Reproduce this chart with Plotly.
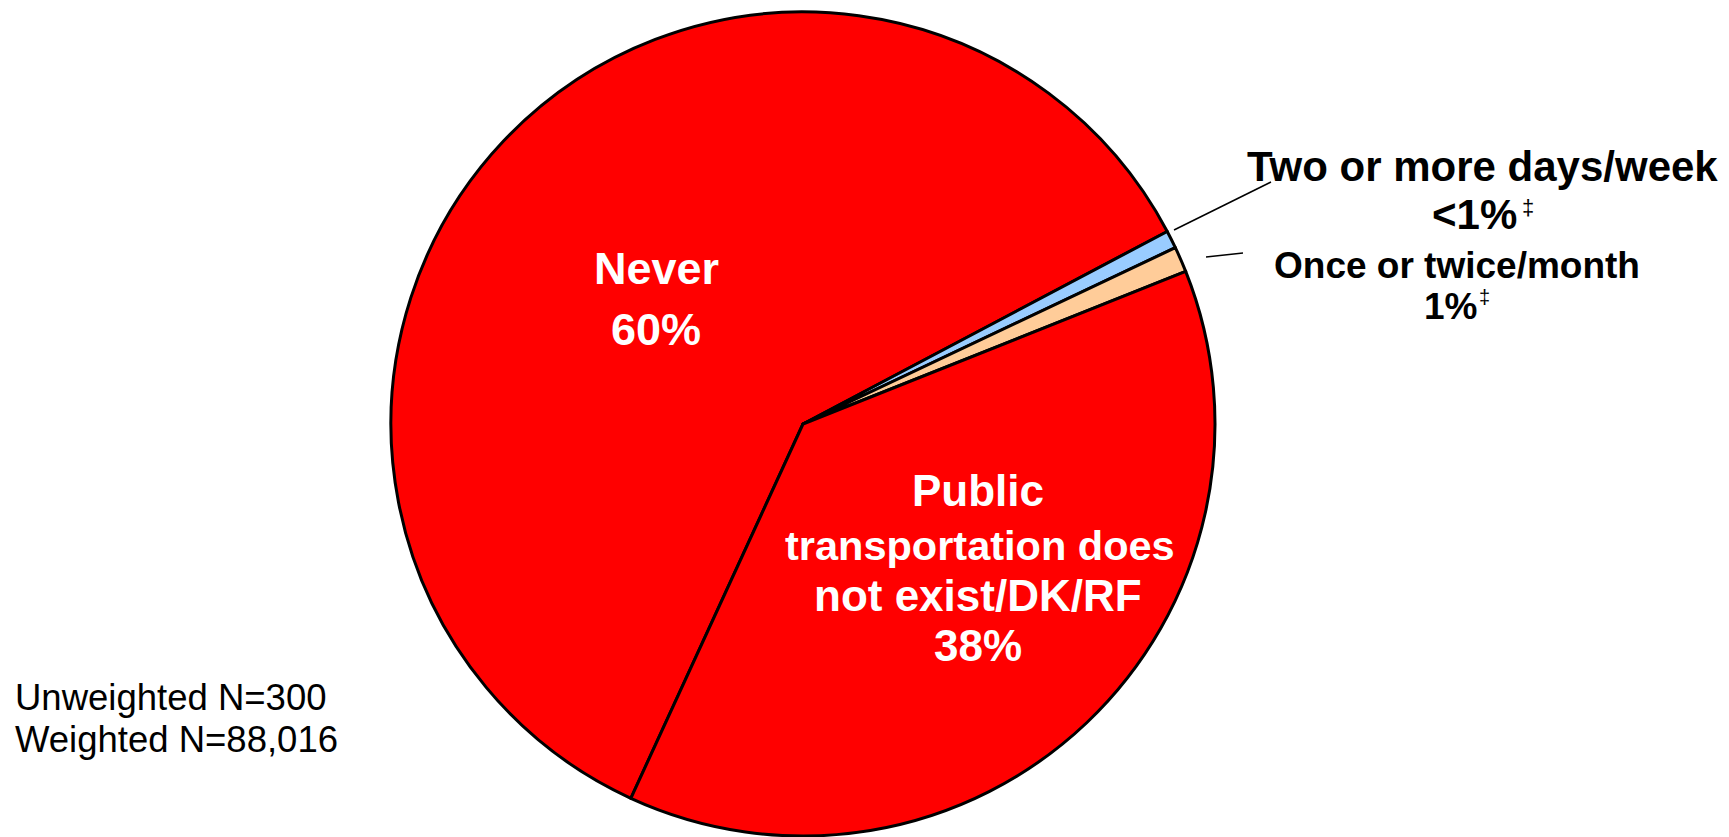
import plotly.graph_objects as go

# ---- data ----
categories = ["Never", "Two or more days/week", "Once or twice/month",
              "Public transportation does not exist/DK/RF"]
values = [60.4, 0.7, 1.0, 37.9]
slice_colors = ["#FF0000", "#99CCFF", "#FFCC99", "#FF0000"]
note_lines = ["Unweighted N=300", "Weighted N=88,016"]

W, H = 1729, 837
FONT = "Liberation Sans, Arial, sans-serif"


def px(x):
    return x / W


def py(y):
    return 1 - y / H


CX, CY, R = 803, 424, 412

fig = go.Figure()
fig.add_trace(go.Pie(
    labels=categories,
    values=values,
    sort=False,
    direction="clockwise",
    rotation=204.7,
    marker=dict(colors=slice_colors, line=dict(color="black", width=3)),
    textinfo="none",
    hoverinfo="label+percent",
    showlegend=False,
    domain=dict(x=[px(CX - R), px(CX + R)], y=[py(CY + R), py(CY - R)]),
))

annotations = []


def add_text(text, x, y, size, color="black", bold=True, xanchor="center"):
    t = f"<b>{text}</b>" if bold else text
    annotations.append(dict(
        text=t, x=px(x), y=py(y), xref="paper", yref="paper",
        xanchor=xanchor, yanchor="middle", showarrow=False,
        font=dict(family=FONT, size=size, color=color),
    ))


# inside labels
add_text("Never", 656, 268, 45, "white")
add_text("60%", 656, 330, 45, "white")
add_text("Public", 978, 491, 44, "white")
add_text("transportation does", 980, 545, 41.5, "white")
add_text("not exist/DK/RF", 978, 595, 44, "white")
add_text("38%", 978, 645, 44, "white")

# outside labels
add_text("Two or more days/week", 1482, 167, 42)
add_text("&lt;1%", 1519, 215, 42, xanchor="right")
add_text("‡", 1520, 207, 22, bold=False, xanchor="left")
add_text("Once or twice/month", 1457, 265, 37)
add_text("1%", 1479, 306, 37, xanchor="right")
add_text("‡", 1477, 297, 20, bold=False, xanchor="left")

# sample-size note
add_text(note_lines[0], 13, 697, 36.5, bold=False, xanchor="left")
add_text(note_lines[1], 13, 739, 36.5, bold=False, xanchor="left")

shapes = [
    dict(type="line", xref="paper", yref="paper",
         x0=px(1174), y0=py(230), x1=px(1271), y1=py(182),
         line=dict(color="black", width=1.5)),
    dict(type="line", xref="paper", yref="paper",
         x0=px(1206), y0=py(257), x1=px(1243), y1=py(253),
         line=dict(color="black", width=1.5)),
]

fig.update_layout(
    width=W, height=H,
    margin=dict(l=0, r=0, t=0, b=0),
    paper_bgcolor="white",
    plot_bgcolor="white",
    annotations=annotations,
    shapes=shapes,
    font=dict(family=FONT),
)

fig.write_html("out.html", config={"displayModeBar": False},
               post_script="document.body.style.margin='0';")
